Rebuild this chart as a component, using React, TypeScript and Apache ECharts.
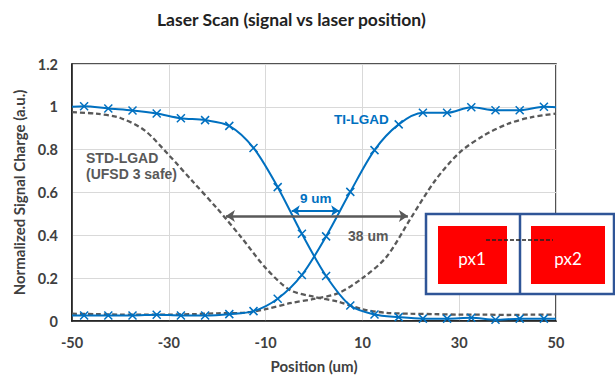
import React, { useEffect, useRef } from "react";
import * as echarts from "echarts";

// ---- data ----
const tiPositions = [-47.5, -42.5, -37.5, -32.5, -27.5, -22.5, -17.5, -12.5, -7.5, -2.5, 2.5, 7.5, 12.5, 17.5, 22.5, 27.5, 32.5, 37.5, 42.5, 47.5];
const tiFalling = [1.003, 0.992, 0.983, 0.969, 0.947, 0.938, 0.911, 0.808, 0.625, 0.407, 0.21, 0.072, 0.03, 0.018, 0.011, 0.011, 0.015, 0.006, 0.011, 0.011];
const tiRising = [0.026, 0.026, 0.026, 0.029, 0.026, 0.026, 0.032, 0.046, 0.104, 0.215, 0.395, 0.603, 0.798, 0.918, 0.972, 0.972, 0.998, 0.984, 0.984, 1.0];
const edgePositions = [-50, 50];
const tiFallingEdges = [1.0, 0.011];
const tiRisingEdges = [0.026, 0.998];

const stdPositions = [-50, -45, -40, -35, -30, -25, -20, -15, -10, -5, 0, 5, 10, 15, 20, 25, 30, 35, 40, 45, 50];
const stdFalling = [0.975, 0.968, 0.948, 0.89, 0.775, 0.65, 0.525, 0.39, 0.248, 0.145, 0.113, 0.09, 0.055, 0.038, 0.034, 0.032, 0.03, 0.03, 0.028, 0.03, 0.03];
const stdRising = [0.034, 0.032, 0.03, 0.03, 0.03, 0.032, 0.036, 0.038, 0.055, 0.083, 0.103, 0.13, 0.2, 0.3, 0.48, 0.655, 0.785, 0.865, 0.92, 0.952, 0.968];

// arrows: [x start, x end, y]
const wideArrow = [-18.2, 19.4, 0.49];
const narrowArrow = [-4.6, 5.2, 0.515];

const xTickLabels = ["-50", "-30", "-10", "10", "30", "50"];
const yTickLabels = ["0", "0.2", "0.4", "0.6", "0.8", "1", "1.2"];

const X0 = 50; // axis offset so ticks start at a multiple of the interval

const BLUE = "#0070C0";
const GRAY = "#595959";
const TEXT = "#404040";
const FONT = "Lato, 'Open Sans', sans-serif";
const ARIAL = "'Liberation Sans', Arial, sans-serif";

export default function App() {
  const ref = useRef<HTMLDivElement>(null);

  useEffect(() => {
    if (!ref.current) return;
    const chart = echarts.init(ref.current, undefined, { renderer: "svg" });

    const tiSeries = (vals: number[], edges: number[]) => [
      { value: [edgePositions[0] + X0, edges[0]], symbol: "none" },
      ...tiPositions.map((x, i) => [x + X0, vals[i]]),
      { value: [edgePositions[1] + X0, edges[1]], symbol: "none" },
    ];
    const stdSeries = (vals: number[]) => stdPositions.map((x, i) => [x + X0, vals[i]]);

    const xSymbol = "path://M0,0L10,10M10,0L0,10";

    const arrowMark = (a: number[], color: string, width: number, size: number) => ({
      silent: true,
      symbol: ["arrow", "arrow"],
      symbolSize: size,
      label: { show: false },
      lineStyle: { color, width, type: "solid" },
      emphasis: { disabled: true },
      data: [[{ coord: [a[0] + X0, a[2]] }, { coord: [a[1] + X0, a[2]] }]],
    });

    chart.setOption({
      animation: false,
      title: {
        text: "Laser Scan (signal vs laser position)",
        left: 152,
        top: 5,
        textStyle: { fontFamily: FONT, fontWeight: "bold", fontSize: 17.5, color: "#222" },
      },
      grid: {
        left: 72,
        right: 59,
        top: 64,
        bottom: 54,
        show: true,
        borderColor: "#1a1a1a",
        borderWidth: 1.5,
      },
      xAxis: {
        type: "value",
        min: 0,
        max: 100,
        interval: 20,
        name: "Position (um)",
        nameLocation: "middle",
        nameGap: 37,
        nameTextStyle: { fontFamily: FONT, fontWeight: "bold", fontSize: 15, color: TEXT },
        axisLine: { show: true, lineStyle: { color: "#1a1a1a", width: 1.5 } },
        axisTick: { show: false },
        axisLabel: {
          margin: 14,
          fontFamily: FONT,
          fontWeight: "bold",
          fontSize: 14.5,
          color: TEXT,
          formatter: (v: number) => {
            const idx = Math.round(v / 20);
            return xTickLabels[idx] ?? String(v - X0);
          },
        },
        splitLine: { show: true, lineStyle: { color: "#d9d9d9", width: 1 } },
      },
      yAxis: {
        type: "value",
        min: 0,
        max: 1.2,
        interval: 0.2,
        name: "Normalized Signal Charge (a.u.)",
        nameLocation: "middle",
        nameGap: 36,
        nameRotate: 90,
        nameTextStyle: { fontFamily: FONT, fontWeight: "bold", fontSize: 15, color: TEXT },
        axisLine: { show: true, lineStyle: { color: "#1a1a1a", width: 1.5 } },
        axisTick: { show: false },
        axisLabel: {
          margin: 14,
          fontFamily: FONT,
          fontWeight: "bold",
          fontSize: 14.5,
          color: TEXT,
          formatter: (v: number) => {
            const idx = Math.round(v / 0.2);
            return yTickLabels[idx] ?? String(v);
          },
        },
        splitLine: { show: true, lineStyle: { color: "#d9d9d9", width: 1 } },
      },
      series: [
        {
          type: "line",
          name: "STD falling",
          data: stdSeries(stdFalling),
          smooth: 0.3,
          showSymbol: false,
          symbol: "none",
          z: 2,
          lineStyle: { color: GRAY, width: 2.3, type: [5, 3] },
          markLine: arrowMark(wideArrow, GRAY, 2.5, 9),
        },
        {
          type: "line",
          name: "STD rising",
          data: stdSeries(stdRising),
          smooth: 0.3,
          showSymbol: false,
          symbol: "none",
          z: 2,
          lineStyle: { color: GRAY, width: 2.3, type: [5, 3] },
        },
        {
          type: "line",
          name: "TI falling",
          data: tiSeries(tiFalling, tiFallingEdges),
          smooth: 0.3,
          symbol: xSymbol,
          symbolSize: 8,
          showAllSymbol: true,
          z: 3,
          itemStyle: { color: BLUE, borderColor: BLUE, borderWidth: 1.5 },
          lineStyle: { color: BLUE, width: 2 },
          markLine: arrowMark(narrowArrow, BLUE, 2.2, 8),
        },
        {
          type: "line",
          name: "TI rising",
          data: tiSeries(tiRising, tiRisingEdges),
          smooth: 0.3,
          symbol: xSymbol,
          symbolSize: 8,
          showAllSymbol: true,
          z: 3,
          itemStyle: { color: BLUE, borderColor: BLUE, borderWidth: 1.5 },
          lineStyle: { color: BLUE, width: 2 },
        },
      ],
      graphic: [
        { type: "text", left: 334, top: 112, z: 10, style: { text: "TI-LGAD", fill: BLUE, font: `bold 13.5px ${ARIAL}` } },
        { type: "text", left: 86, top: 151, z: 10, style: { text: "STD-LGAD", fill: GRAY, font: `bold 14px ${ARIAL}` } },
        { type: "text", left: 86, top: 167, z: 10, style: { text: "(UFSD 3 safe)", fill: GRAY, font: `bold 14px ${ARIAL}` } },
        { type: "text", left: 300, top: 191, z: 10, style: { text: "9 um", fill: BLUE, font: `bold 13.5px ${ARIAL}` } },
        { type: "text", left: 348, top: 229, z: 10, style: { text: "38 um", fill: GRAY, font: `bold 14px ${ARIAL}` } },
        {
          type: "group",
          z: 20,
          children: [
            { type: "rect", shape: { x: 426, y: 214, width: 188, height: 80 }, style: { fill: "#fff", stroke: "#2F5597", lineWidth: 2.5 }, z: 20 },
            { type: "line", shape: { x1: 520, y1: 214, x2: 520, y2: 294 }, style: { stroke: "#2F5597", lineWidth: 2.5 }, z: 21 },
            { type: "rect", shape: { x: 438, y: 226, width: 69, height: 58 }, style: { fill: "#FF0000" }, z: 21 },
            { type: "rect", shape: { x: 531, y: 226, width: 74, height: 58 }, style: { fill: "#FF0000" }, z: 21 },
            { type: "line", shape: { x1: 486, y1: 240, x2: 553, y2: 240 }, style: { stroke: "#222", lineWidth: 1.3, lineDash: [4, 2] }, z: 22 },
            { type: "text", x: 472, y: 258, z: 22, style: { text: "px1", fill: "#fff", font: `17px ${FONT}`, textAlign: "center", textVerticalAlign: "middle" } },
            { type: "text", x: 568, y: 258, z: 22, style: { text: "px2", fill: "#fff", font: `17px ${FONT}`, textAlign: "center", textVerticalAlign: "middle" } },
          ],
        },
      ],
    });

    return () => chart.dispose();
  }, []);

  return (
    <div
      ref={ref}
      style={{ position: "absolute", left: 0, top: 0, width: 615, height: 378, background: "#fff" }}
    />
  );
}
